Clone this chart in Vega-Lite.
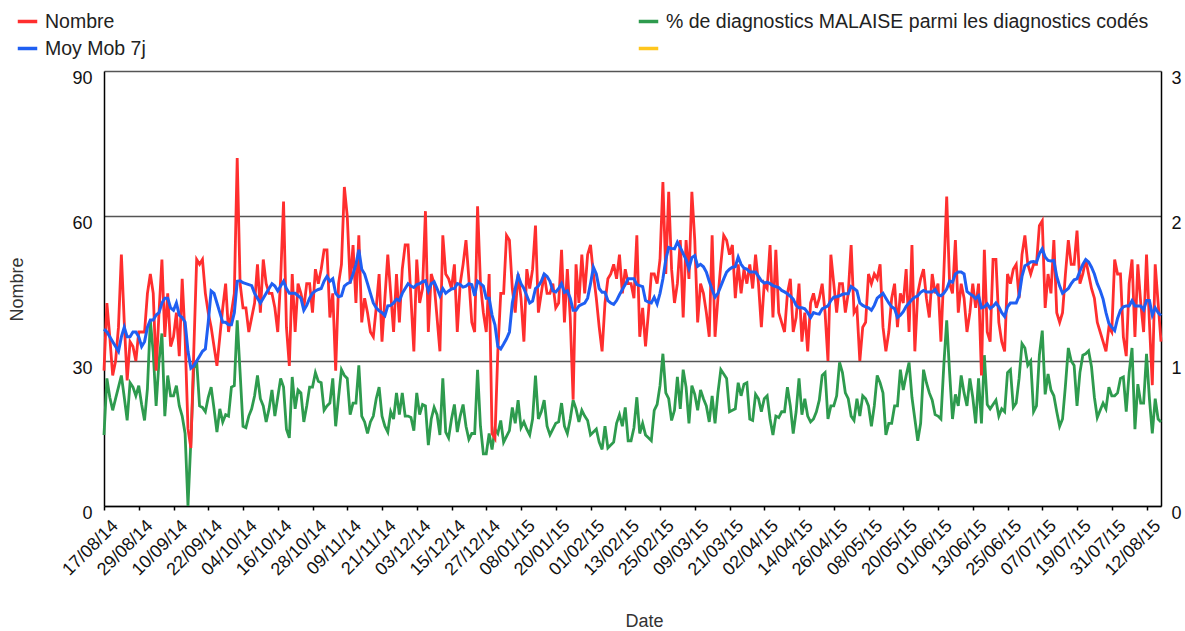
{
"$schema": "https://vega.github.io/schema/vega-lite/v6.json",
"width": 1057, "height": 435,
"autosize": {"type": "none"},
"padding": {"left": 104, "top": 71, "right": 24, "bottom": 125},
"background": "white",
"config": {"font": "Liberation Sans", "view": {"stroke": null}},
"data": {"values": [
{"d":"2014-08-17","n":28,"m":36.6,"p":0.49},{"d":"2014-08-18","n":42,"m":36,"p":0.88},{"d":"2014-08-19","n":35,"m":35,"p":0.75},{"d":"2014-08-20","n":27,"m":34,"p":0.66},{"d":"2014-08-21","n":30,"m":33,"p":0.74},{"d":"2014-08-22","n":37,"m":32,"p":0.82},{"d":"2014-08-23","n":52,"m":35,"p":0.9},{"d":"2014-08-24","n":38,"m":37,"p":0.75},{"d":"2014-08-25","n":26,"m":35,"p":0.59},{"d":"2014-08-26","n":34,"m":35,"p":0.85},{"d":"2014-08-27","n":33,"m":36,"p":0.82},{"d":"2014-08-28","n":30,"m":36,"p":0.76},{"d":"2014-08-29","n":36,"m":35,"p":0.83},{"d":"2014-08-30","n":36,"m":33,"p":0.7},{"d":"2014-08-31","n":36,"m":34,"p":0.59},
{"d":"2014-09-01","n":44,"m":37,"p":0.81},{"d":"2014-09-02","n":48,"m":38.5,"p":1.28},{"d":"2014-09-03","n":44,"m":38.5,"p":1.06},{"d":"2014-09-04","n":28,"m":39.5,"p":0.69},{"d":"2014-09-05","n":40,"m":40,"p":1.0},{"d":"2014-09-06","n":51,"m":42,"p":1.19},{"d":"2014-09-07","n":35,"m":43,"p":0.62},{"d":"2014-09-08","n":44,"m":43,"p":0.9},{"d":"2014-09-09","n":33,"m":41,"p":0.76},{"d":"2014-09-10","n":35,"m":40.5,"p":0.76},{"d":"2014-09-11","n":40,"m":42,"p":0.83},{"d":"2014-09-12","n":31,"m":39.5,"p":0.69},{"d":"2014-09-13","n":47,"m":39,"p":0.62},{"d":"2014-09-14","n":35,"m":38,"p":0.5},{"d":"2014-09-15","n":16,"m":32,"p":0},{"d":"2014-09-16","n":12,"m":28.5,"p":0.45},{"d":"2014-09-17","n":32,"m":29,"p":0.95},{"d":"2014-09-18","n":51,"m":30,"p":1.0},{"d":"2014-09-19","n":50,"m":31,"p":0.69},{"d":"2014-09-20","n":51,"m":32,"p":0.68},{"d":"2014-09-21","n":44,"m":32.5,"p":0.65},{"d":"2014-09-22","n":40,"m":38,"p":0.75},{"d":"2014-09-23","n":37,"m":44.5,"p":0.82},{"d":"2014-09-24","n":33,"m":44,"p":0.67},{"d":"2014-09-25","n":29,"m":42,"p":0.51},{"d":"2014-09-26","n":35,"m":40,"p":0.67},{"d":"2014-09-27","n":41,"m":38,"p":0.58},{"d":"2014-09-28","n":46,"m":38,"p":0.63},{"d":"2014-09-29","n":36,"m":37.5,"p":0.62},{"d":"2014-09-30","n":40,"m":37.5,"p":0.82},
{"d":"2014-10-01","n":44,"m":40,"p":0.83},{"d":"2014-10-02","n":72,"m":46.5,"p":1.28},{"d":"2014-10-03","n":46,"m":46.6,"p":0.92},{"d":"2014-10-04","n":41,"m":46.2,"p":0.55},{"d":"2014-10-05","n":41,"m":46,"p":0.54},{"d":"2014-10-06","n":36,"m":45.8,"p":0.62},{"d":"2014-10-07","n":39,"m":45.6,"p":0.67},{"d":"2014-10-08","n":42,"m":44,"p":0.76},{"d":"2014-10-09","n":50,"m":43,"p":0.9},{"d":"2014-10-10","n":40,"m":42,"p":0.74},{"d":"2014-10-11","n":51,"m":43,"p":0.69},{"d":"2014-10-12","n":46,"m":44,"p":0.58},{"d":"2014-10-13","n":44,"m":45,"p":0.67},{"d":"2014-10-14","n":44,"m":46,"p":0.8},{"d":"2014-10-15","n":41,"m":45.5,"p":0.62},{"d":"2014-10-16","n":36,"m":44.5,"p":0.75},{"d":"2014-10-17","n":47,"m":45.5,"p":0.88},{"d":"2014-10-18","n":63,"m":46.5,"p":0.82},{"d":"2014-10-19","n":37,"m":45,"p":0.53},{"d":"2014-10-20","n":29,"m":44,"p":0.47},{"d":"2014-10-21","n":48,"m":44,"p":0.89},{"d":"2014-10-22","n":36,"m":44,"p":0.67},{"d":"2014-10-23","n":46,"m":43.5,"p":0.8},{"d":"2014-10-24","n":44,"m":43,"p":0.78},{"d":"2014-10-25","n":41,"m":40.5,"p":0.58},{"d":"2014-10-26","n":46,"m":41.5,"p":0.69},{"d":"2014-10-27","n":46,"m":43,"p":0.82},{"d":"2014-10-28","n":40,"m":44,"p":0.82},{"d":"2014-10-29","n":49,"m":44.5,"p":0.92},{"d":"2014-10-30","n":46,"m":44.8,"p":0.86},{"d":"2014-10-31","n":49,"m":45,"p":0.85},
{"d":"2014-11-01","n":53,"m":46.5,"p":0.66},{"d":"2014-11-02","n":53,"m":47.5,"p":0.69},{"d":"2014-11-03","n":39,"m":46.5,"p":0.71},{"d":"2014-11-04","n":44,"m":47,"p":0.88},{"d":"2014-11-05","n":28,"m":44,"p":0.55},{"d":"2014-11-06","n":46,"m":43.3,"p":0.75},{"d":"2014-11-07","n":50,"m":43.5,"p":0.94},{"d":"2014-11-08","n":66,"m":45.5,"p":0.9},{"d":"2014-11-09","n":60,"m":46,"p":0.88},{"d":"2014-11-10","n":46,"m":46.3,"p":0.63},{"d":"2014-11-11","n":54,"m":48,"p":0.71},{"d":"2014-11-12","n":42,"m":50,"p":0.71},{"d":"2014-11-13","n":56,"m":53,"p":0.97},{"d":"2014-11-14","n":38,"m":49,"p":0.62},{"d":"2014-11-15","n":43,"m":48,"p":0.58},{"d":"2014-11-16","n":40,"m":46,"p":0.5},{"d":"2014-11-17","n":36,"m":44,"p":0.58},{"d":"2014-11-18","n":35,"m":42,"p":0.62},{"d":"2014-11-19","n":41,"m":41,"p":0.74},{"d":"2014-11-20","n":48,"m":40.4,"p":0.82},{"d":"2014-11-21","n":34,"m":40,"p":0.62},{"d":"2014-11-22","n":43,"m":39.4,"p":0.55},{"d":"2014-11-23","n":52,"m":41.4,"p":0.51},{"d":"2014-11-24","n":44,"m":41.5,"p":0.65},{"d":"2014-11-25","n":36,"m":42,"p":0.6},{"d":"2014-11-26","n":48,"m":42.8,"p":0.78},{"d":"2014-11-27","n":38,"m":42.5,"p":0.63},{"d":"2014-11-28","n":49,"m":44,"p":0.78},{"d":"2014-11-29","n":54,"m":45,"p":0.62},{"d":"2014-11-30","n":54,"m":46,"p":0.62},
{"d":"2014-12-01","n":43,"m":45.5,"p":0.61},{"d":"2014-12-02","n":32,"m":45.2,"p":0.52},{"d":"2014-12-03","n":51,"m":45.8,"p":0.78},{"d":"2014-12-04","n":42,"m":46,"p":0.63},{"d":"2014-12-05","n":45,"m":46.4,"p":0.7},{"d":"2014-12-06","n":61,"m":46.6,"p":0.69},{"d":"2014-12-07","n":36,"m":44.5,"p":0.42},{"d":"2014-12-08","n":48,"m":46,"p":0.6},{"d":"2014-12-09","n":46,"m":46.4,"p":0.68},{"d":"2014-12-10","n":39,"m":45,"p":0.63},{"d":"2014-12-11","n":32,"m":43.5,"p":0.49},{"d":"2014-12-12","n":56,"m":45,"p":0.88},{"d":"2014-12-13","n":48,"m":44,"p":0.51},{"d":"2014-12-14","n":47,"m":44.5,"p":0.47},{"d":"2014-12-15","n":45,"m":44.9,"p":0.6},{"d":"2014-12-16","n":50,"m":45,"p":0.7},{"d":"2014-12-17","n":36,"m":46,"p":0.51},{"d":"2014-12-18","n":46,"m":45.8,"p":0.62},{"d":"2014-12-19","n":50,"m":45.3,"p":0.7},{"d":"2014-12-20","n":55,"m":45.5,"p":0.55},{"d":"2014-12-21","n":47,"m":46,"p":0.46},{"d":"2014-12-22","n":38,"m":45.8,"p":0.5},{"d":"2014-12-23","n":36,"m":43.5,"p":0.5},{"d":"2014-12-24","n":62,"m":46.5,"p":0.94},{"d":"2014-12-25","n":46,"m":46,"p":0.55},{"d":"2014-12-26","n":40,"m":45.5,"p":0.36},{"d":"2014-12-27","n":36,"m":43,"p":0.36},{"d":"2014-12-28","n":48,"m":43,"p":0.5},{"d":"2014-12-29","n":15,"m":39.5,"p":0.39},{"d":"2014-12-30","n":14,"m":37.5,"p":0.53},{"d":"2014-12-31","n":32,"m":33,"p":0.5},
{"d":"2015-01-01","n":44,"m":32.5,"p":0.59},{"d":"2015-01-02","n":44,"m":33.5,"p":0.44},{"d":"2015-01-03","n":56,"m":34.6,"p":0.48},{"d":"2015-01-04","n":55,"m":36,"p":0.52},{"d":"2015-01-05","n":45,"m":42,"p":0.68},{"d":"2015-01-06","n":40,"m":45,"p":0.57},{"d":"2015-01-07","n":48,"m":47.7,"p":0.73},{"d":"2015-01-08","n":43,"m":46,"p":0.54},{"d":"2015-01-09","n":34,"m":45,"p":0.58},{"d":"2015-01-10","n":49,"m":43.5,"p":0.53},{"d":"2015-01-11","n":45,"m":42,"p":0.49},{"d":"2015-01-12","n":49,"m":42.4,"p":0.6},{"d":"2015-01-13","n":58,"m":45,"p":0.9},{"d":"2015-01-14","n":40,"m":45.5,"p":0.6},{"d":"2015-01-15","n":44,"m":46.5,"p":0.65},{"d":"2015-01-16","n":48,"m":48,"p":0.73},{"d":"2015-01-17","n":44,"m":47.5,"p":0.55},{"d":"2015-01-18","n":44,"m":46.5,"p":0.49},{"d":"2015-01-19","n":46,"m":44.5,"p":0.53},{"d":"2015-01-20","n":41,"m":44.3,"p":0.57},{"d":"2015-01-21","n":42,"m":45,"p":0.58},{"d":"2015-01-22","n":53,"m":46,"p":0.71},{"d":"2015-01-23","n":38,"m":44.2,"p":0.55},{"d":"2015-01-24","n":49,"m":44.5,"p":0.5},{"d":"2015-01-25","n":39,"m":43,"p":0.6},{"d":"2015-01-26","n":22,"m":40.5,"p":0.73},{"d":"2015-01-27","n":50,"m":40.5,"p":0.67},{"d":"2015-01-28","n":42,"m":41.4,"p":0.58},{"d":"2015-01-29","n":52,"m":41.7,"p":0.66},{"d":"2015-01-30","n":44,"m":42,"p":0.62},{"d":"2015-01-31","n":52,"m":43,"p":0.59},
{"d":"2015-02-01","n":54,"m":46,"p":0.49},{"d":"2015-02-02","n":48,"m":49.4,"p":0.51},{"d":"2015-02-03","n":43,"m":48,"p":0.53},{"d":"2015-02-04","n":37,"m":45,"p":0.44},{"d":"2015-02-05","n":32,"m":44.2,"p":0.39},{"d":"2015-02-06","n":42,"m":44.2,"p":0.55},{"d":"2015-02-07","n":47,"m":42.5,"p":0.4},{"d":"2015-02-08","n":48,"m":42,"p":0.42},{"d":"2015-02-09","n":50,"m":41.7,"p":0.44},{"d":"2015-02-10","n":47,"m":42.5,"p":0.57},{"d":"2015-02-11","n":52,"m":43.7,"p":0.63},{"d":"2015-02-12","n":44,"m":44.8,"p":0.55},{"d":"2015-02-13","n":49,"m":45.8,"p":0.68},{"d":"2015-02-14","n":46,"m":47,"p":0.45},{"d":"2015-02-15","n":46,"m":47,"p":0.45},{"d":"2015-02-16","n":43,"m":47,"p":0.54},{"d":"2015-02-17","n":56,"m":45.8,"p":0.75},{"d":"2015-02-18","n":35,"m":45.6,"p":0.5},{"d":"2015-02-19","n":41,"m":45.4,"p":0.57},{"d":"2015-02-20","n":33,"m":42.5,"p":0.49},{"d":"2015-02-21","n":40,"m":42.2,"p":0.47},{"d":"2015-02-22","n":48,"m":42,"p":0.45},{"d":"2015-02-23","n":48,"m":43.2,"p":0.66},{"d":"2015-02-24","n":46,"m":41.8,"p":0.7},{"d":"2015-02-25","n":51,"m":44,"p":0.83},{"d":"2015-02-26","n":67,"m":47,"p":1.05},{"d":"2015-02-27","n":48,"m":51,"p":0.78},{"d":"2015-02-28","n":65,"m":53.5,"p":0.74},
{"d":"2015-03-01","n":49,"m":53.3,"p":0.59},{"d":"2015-03-02","n":42,"m":53.2,"p":0.66},{"d":"2015-03-03","n":46,"m":54.6,"p":0.89},{"d":"2015-03-04","n":55,"m":53.5,"p":0.67},{"d":"2015-03-05","n":39,"m":52.2,"p":0.94},{"d":"2015-03-06","n":55,"m":51,"p":0.82},{"d":"2015-03-07","n":47,"m":49.2,"p":0.57},{"d":"2015-03-08","n":65,"m":51.4,"p":0.83},{"d":"2015-03-09","n":55,"m":51.8,"p":0.77},{"d":"2015-03-10","n":38,"m":49.6,"p":0.66},{"d":"2015-03-11","n":46,"m":50,"p":0.8},{"d":"2015-03-12","n":44,"m":49.5,"p":0.74},{"d":"2015-03-13","n":40,"m":48.4,"p":0.69},{"d":"2015-03-14","n":35,"m":46.5,"p":0.58},{"d":"2015-03-15","n":56,"m":44.8,"p":0.76},{"d":"2015-03-16","n":35,"m":43.2,"p":0.57},{"d":"2015-03-17","n":43,"m":44,"p":0.78},{"d":"2015-03-18","n":50,"m":45.5,"p":0.94},{"d":"2015-03-19","n":56,"m":47,"p":0.91},{"d":"2015-03-20","n":55,"m":48.4,"p":0.88},{"d":"2015-03-21","n":52,"m":49,"p":0.65},{"d":"2015-03-22","n":54,"m":49.4,"p":0.66},{"d":"2015-03-23","n":43,"m":49.5,"p":0.67},{"d":"2015-03-24","n":50,"m":51.5,"p":0.85},{"d":"2015-03-25","n":44,"m":50,"p":0.76},{"d":"2015-03-26","n":49,"m":49.2,"p":0.84},{"d":"2015-03-27","n":46,"m":49,"p":0.85},{"d":"2015-03-28","n":50,"m":48.4,"p":0.6},{"d":"2015-03-29","n":45,"m":48.4,"p":0.59},{"d":"2015-03-30","n":52,"m":48.4,"p":0.77},{"d":"2015-03-31","n":46,"m":47.5,"p":0.74},
{"d":"2015-04-01","n":37,"m":46.6,"p":0.65},{"d":"2015-04-02","n":46,"m":46.1,"p":0.74},{"d":"2015-04-03","n":45,"m":46.3,"p":0.76},{"d":"2015-04-04","n":54,"m":46,"p":0.6},{"d":"2015-04-05","n":39,"m":45.6,"p":0.49},{"d":"2015-04-06","n":53,"m":45.4,"p":0.62},{"d":"2015-04-07","n":40,"m":45.2,"p":0.61},{"d":"2015-04-08","n":38,"m":44.6,"p":0.65},{"d":"2015-04-09","n":36,"m":44.3,"p":0.65},{"d":"2015-04-10","n":44,"m":43.9,"p":0.82},{"d":"2015-04-11","n":47,"m":43.4,"p":0.69},{"d":"2015-04-12","n":36,"m":42.8,"p":0.5},{"d":"2015-04-13","n":39,"m":41.5,"p":0.65},{"d":"2015-04-14","n":46,"m":41,"p":0.88},{"d":"2015-04-15","n":34,"m":41,"p":0.63},{"d":"2015-04-16","n":40,"m":40.8,"p":0.74},{"d":"2015-04-17","n":32,"m":40,"p":0.62},{"d":"2015-04-18","n":42,"m":39,"p":0.58},{"d":"2015-04-19","n":44,"m":40,"p":0.6},{"d":"2015-04-20","n":41,"m":39.8,"p":0.65},{"d":"2015-04-21","n":43,"m":39.7,"p":0.73},{"d":"2015-04-22","n":46,"m":40.8,"p":0.9},{"d":"2015-04-23","n":40,"m":41.1,"p":0.92},{"d":"2015-04-24","n":30,"m":41.4,"p":0.6},{"d":"2015-04-25","n":52,"m":42.5,"p":0.69},{"d":"2015-04-26","n":46,"m":43.2,"p":0.69},{"d":"2015-04-27","n":40,"m":43.3,"p":0.76},{"d":"2015-04-28","n":46,"m":43.5,"p":0.99},{"d":"2015-04-29","n":46,"m":43.8,"p":0.92},{"d":"2015-04-30","n":40,"m":43.9,"p":0.78},
{"d":"2015-05-01","n":44,"m":43.9,"p":0.74},{"d":"2015-05-02","n":54,"m":45.4,"p":0.62},{"d":"2015-05-03","n":40,"m":45,"p":0.59},{"d":"2015-05-04","n":41,"m":44.5,"p":0.74},{"d":"2015-05-05","n":30,"m":42,"p":0.62},{"d":"2015-05-06","n":37,"m":41.5,"p":0.76},{"d":"2015-05-07","n":38,"m":41.2,"p":0.74},{"d":"2015-05-08","n":48,"m":41,"p":0.69},{"d":"2015-05-09","n":46,"m":40.5,"p":0.55},{"d":"2015-05-10","n":48,"m":41.5,"p":0.69},{"d":"2015-05-11","n":47,"m":43,"p":0.9},{"d":"2015-05-12","n":50,"m":43.5,"p":0.85},{"d":"2015-05-13","n":37,"m":44,"p":0.78},{"d":"2015-05-14","n":32,"m":43,"p":0.49},{"d":"2015-05-15","n":36,"m":42,"p":0.57},{"d":"2015-05-16","n":43,"m":41.2,"p":0.57},{"d":"2015-05-17","n":46,"m":40.8,"p":0.69},{"d":"2015-05-18","n":37,"m":39,"p":0.69},{"d":"2015-05-19","n":44,"m":39.5,"p":0.94},{"d":"2015-05-20","n":42,"m":40.2,"p":0.8},{"d":"2015-05-21","n":49,"m":41.3,"p":0.9},{"d":"2015-05-22","n":36,"m":42,"p":0.99},{"d":"2015-05-23","n":54,"m":42.7,"p":0.75},{"d":"2015-05-24","n":32,"m":43.2,"p":0.6},{"d":"2015-05-25","n":44,"m":43.5,"p":0.45},{"d":"2015-05-26","n":47,"m":44.2,"p":0.57},{"d":"2015-05-27","n":49,"m":44.6,"p":0.94},{"d":"2015-05-28","n":43,"m":44.3,"p":0.85},{"d":"2015-05-29","n":39,"m":44.3,"p":0.78},{"d":"2015-05-30","n":48,"m":44.3,"p":0.73},{"d":"2015-05-31","n":44,"m":44.8,"p":0.63},
{"d":"2015-06-01","n":46,"m":43.7,"p":0.62},{"d":"2015-06-02","n":34,"m":43.5,"p":0.6},{"d":"2015-06-03","n":48,"m":44,"p":0.97},{"d":"2015-06-04","n":64,"m":44.9,"p":1.28},{"d":"2015-06-05","n":46,"m":46.5,"p":0.92},{"d":"2015-06-06","n":44,"m":46.3,"p":0.6},{"d":"2015-06-07","n":55,"m":48,"p":0.77},{"d":"2015-06-08","n":40,"m":48.4,"p":0.69},{"d":"2015-06-09","n":46,"m":48.4,"p":0.9},{"d":"2015-06-10","n":43,"m":48,"p":0.78},{"d":"2015-06-11","n":36,"m":44.4,"p":0.69},{"d":"2015-06-12","n":40,"m":43.9,"p":0.88},{"d":"2015-06-13","n":46,"m":43.5,"p":0.75},{"d":"2015-06-14","n":41,"m":42.9,"p":0.57},{"d":"2015-06-15","n":46,"m":43.5,"p":0.88},{"d":"2015-06-16","n":27,"m":41,"p":0.57},{"d":"2015-06-17","n":53,"m":41.2,"p":1.04},{"d":"2015-06-18","n":36,"m":41.8,"p":0.7},{"d":"2015-06-19","n":34,"m":40.9,"p":0.67},{"d":"2015-06-20","n":51,"m":41.3,"p":0.7},{"d":"2015-06-21","n":51,"m":42,"p":0.73},{"d":"2015-06-22","n":38,"m":41.2,"p":0.62},{"d":"2015-06-23","n":34,"m":40,"p":0.67},{"d":"2015-06-24","n":32,"m":39.2,"p":0.65},{"d":"2015-06-25","n":48,"m":41.2,"p":0.92},{"d":"2015-06-26","n":46,"m":42,"p":0.94},{"d":"2015-06-27","n":49,"m":42,"p":0.68},{"d":"2015-06-28","n":50,"m":42,"p":0.71},{"d":"2015-06-29","n":43,"m":43.5,"p":0.88},{"d":"2015-06-30","n":52,"m":47.5,"p":1.12},
{"d":"2015-07-01","n":56,"m":49.7,"p":1.09},{"d":"2015-07-02","n":50,"m":50,"p":0.97},{"d":"2015-07-03","n":48,"m":50.5,"p":1.0},{"d":"2015-07-04","n":50,"m":50.6,"p":0.65},{"d":"2015-07-05","n":50,"m":50.4,"p":0.69},{"d":"2015-07-06","n":58,"m":52.2,"p":1.04},{"d":"2015-07-07","n":59,"m":53.2,"p":1.21},{"d":"2015-07-08","n":41,"m":51.5,"p":0.77},{"d":"2015-07-09","n":48,"m":50.8,"p":0.91},{"d":"2015-07-10","n":44,"m":50.7,"p":0.8},{"d":"2015-07-11","n":55,"m":50.8,"p":0.76},{"d":"2015-07-12","n":40,"m":47.5,"p":0.65},{"d":"2015-07-13","n":38,"m":45.5,"p":0.55},{"d":"2015-07-14","n":40,"m":44,"p":0.6},{"d":"2015-07-15","n":48,"m":44.5,"p":0.83},{"d":"2015-07-16","n":55,"m":45,"p":1.09},{"d":"2015-07-17","n":50,"m":46,"p":1.0},{"d":"2015-07-18","n":50,"m":46.8,"p":0.97},{"d":"2015-07-19","n":57,"m":47,"p":0.69},{"d":"2015-07-20","n":46,"m":48.6,"p":0.92},{"d":"2015-07-21","n":48,"m":50,"p":1.04},{"d":"2015-07-22","n":51,"m":51,"p":1.05},{"d":"2015-07-23","n":48,"m":50.5,"p":1.07},{"d":"2015-07-24","n":45,"m":49.4,"p":0.96},{"d":"2015-07-25","n":43,"m":48,"p":0.75},{"d":"2015-07-26","n":38,"m":46,"p":0.61},{"d":"2015-07-27","n":36,"m":44.6,"p":0.66},{"d":"2015-07-28","n":34,"m":42.8,"p":0.71},{"d":"2015-07-29","n":32,"m":40,"p":0.67},{"d":"2015-07-30","n":37,"m":37.8,"p":0.82},{"d":"2015-07-31","n":36,"m":37,"p":0.76},
{"d":"2015-08-01","n":51,"m":36.3,"p":0.76},{"d":"2015-08-02","n":48,"m":38.8,"p":0.78},{"d":"2015-08-03","n":48,"m":40.5,"p":0.88},{"d":"2015-08-04","n":35,"m":41.2,"p":0.89},{"d":"2015-08-05","n":31,"m":41.4,"p":0.65},{"d":"2015-08-06","n":46,"m":41.4,"p":0.92},{"d":"2015-08-07","n":51,"m":42.5,"p":1.09},{"d":"2015-08-08","n":35,"m":41.4,"p":0.53},{"d":"2015-08-09","n":50,"m":41.4,"p":0.84},{"d":"2015-08-10","n":42,"m":41.4,"p":0.71},{"d":"2015-08-11","n":36,"m":40.6,"p":0.71},{"d":"2015-08-12","n":52,"m":42.5,"p":1.05},{"d":"2015-08-13","n":38,"m":42.5,"p":0.74},{"d":"2015-08-14","n":25,"m":39.5,"p":0.5},{"d":"2015-08-15","n":50,"m":41,"p":0.74},{"d":"2015-08-16","n":42,"m":40,"p":0.6},{"d":"2015-08-17","n":34,"m":39.4,"p":0.58}
]},
"encoding": {
  "x": {"field": "d", "type": "temporal",
    "scale": {"type": "utc", "nice": false, "domain": [{"year": 2014, "month": 8, "date": 17, "utc": true}, {"year": 2015, "month": 8, "date": 17, "utc": true}]},
    "axis": {
      "values": [
        {"year":2014,"month":8,"date":17,"utc":true},{"year":2014,"month":8,"date":29,"utc":true},{"year":2014,"month":9,"date":10,"utc":true},{"year":2014,"month":9,"date":22,"utc":true},{"year":2014,"month":10,"date":4,"utc":true},{"year":2014,"month":10,"date":16,"utc":true},{"year":2014,"month":10,"date":28,"utc":true},{"year":2014,"month":11,"date":9,"utc":true},{"year":2014,"month":11,"date":21,"utc":true},{"year":2014,"month":12,"date":3,"utc":true},{"year":2014,"month":12,"date":15,"utc":true},{"year":2014,"month":12,"date":27,"utc":true},{"year":2015,"month":1,"date":8,"utc":true},{"year":2015,"month":1,"date":20,"utc":true},{"year":2015,"month":2,"date":1,"utc":true},{"year":2015,"month":2,"date":13,"utc":true},{"year":2015,"month":2,"date":25,"utc":true},{"year":2015,"month":3,"date":9,"utc":true},{"year":2015,"month":3,"date":21,"utc":true},{"year":2015,"month":4,"date":2,"utc":true},{"year":2015,"month":4,"date":14,"utc":true},{"year":2015,"month":4,"date":26,"utc":true},{"year":2015,"month":5,"date":8,"utc":true},{"year":2015,"month":5,"date":20,"utc":true},{"year":2015,"month":6,"date":1,"utc":true},{"year":2015,"month":6,"date":13,"utc":true},{"year":2015,"month":6,"date":25,"utc":true},{"year":2015,"month":7,"date":7,"utc":true},{"year":2015,"month":7,"date":19,"utc":true},{"year":2015,"month":7,"date":31,"utc":true},{"year":2015,"month":8,"date":12,"utc":true}
      ],
      "format": "%d/%m/%y", "labelAngle": -45, "labelAlign": "right", "labelBaseline": "middle",
      "labelFontSize": 18, "labelColor": "#111", "labelPadding": 13, "labelOffset": 11, "labelOverlap": false, "labelBound": false, "labelFlush": false,
      "ticks": true, "tickSize": 4, "tickColor": "#000", "tickWidth": 1.5,
      "domainColor": "#000", "domainWidth": 1.5, "grid": false,
      "title": "Date", "titleFontSize": 18, "titleFontWeight": "normal", "titleColor": "#333",
      "titleX": 540, "titleY": 115, "titleAlign": "center", "titleBaseline": "middle"
    }
  }
},
"layer": [
  {"mark": {"type": "line", "strokeWidth": 2.8, "interpolate": "linear"},
   "encoding": {
     "y": {"field": "p", "type": "quantitative", "scale": {"domain": [0, 3], "nice": false},
       "axis": {"orient": "right", "values": [0, 1, 2, 3], "grid": false, "ticks": false, "labelFontSize": 18, "labelColor": "#111", "labelPadding": 10, "labelBaseline": "top", "labelOffset": -2, "domainColor": "#000", "domainWidth": 1.5, "title": null}},
     "color": {"datum": "% de diagnostics MALAISE parmi les diagnostics codés",
       "scale": {"domain": ["Nombre", "Moy Mob 7j", "% de diagnostics MALAISE parmi les diagnostics codés", " "], "range": ["#ff2e2e", "#1f5ff2", "#2e9b4e", "#ffc61e"]},
       "legend": {"orient": "none", "legendX": -88, "legendY": -61, "columns": 2, "columnPadding": 485, "rowPadding": 6, "symbolType": "stroke", "symbolSize": 380, "symbolStrokeWidth": 3.5, "labelFontSize": 19.5, "labelColor": "#222", "labelOffset": 6, "title": null, "labelLimit": 700}}
   }},
  {"mark": {"type": "line", "strokeWidth": 2.8},
   "encoding": {
     "y": {"field": "n", "type": "quantitative", "scale": {"domain": [0, 90], "nice": false},
       "axis": {"orient": "left", "values": [0, 30, 60, 90], "grid": true, "gridColor": "#555", "gridWidth": 1.5, "ticks": false, "labelFontSize": 18, "labelColor": "#111", "labelPadding": 12, "labelBaseline": "top", "labelOffset": -2, "domainColor": "#000", "domainWidth": 1.5,
         "title": "Nombre", "titleFontSize": 18, "titleFontWeight": "normal", "titleColor": "#333", "titleX": -87, "titleY": 218, "titleAngle": -90, "titleAlign": "center", "titleBaseline": "middle"}},
     "color": {"datum": "Nombre"}
   }},
  {"mark": {"type": "line", "strokeWidth": 3},
   "encoding": {
     "y": {"field": "m", "type": "quantitative", "scale": {"domain": [0, 90], "nice": false}, "axis": null},
     "color": {"datum": "Moy Mob 7j"}
   }}
],
"resolve": {"scale": {"y": "independent"}}
}
